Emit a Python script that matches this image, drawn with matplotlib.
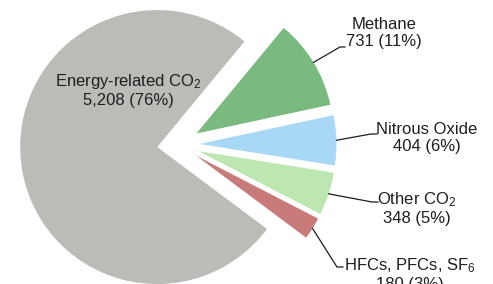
import numpy as np
import matplotlib
matplotlib.use("Agg")
import matplotlib.pyplot as plt

plt.rcParams['font.family'] = ['Liberation Sans', 'DejaVu Sans']

# data
names = ['Energy-related CO$\\mathregular{_2}$', 'Methane', 'Nitrous Oxide',
         'Other CO$\\mathregular{_2}$', 'HFCs, PFCs, SF$\\mathregular{_6}$']
values = [5208, 731, 404, 348, 180]
shares = [76, 11, 6, 5, 3]
colors = ['#BBBBB7', '#7BBA7F', '#A8D8F6', '#BEE6B0', '#C87B79']

# label layout (pixel positions in the 493x284 image, text centre)
label_pos = [(128, 90), (384, 33), (427, 138), (417, 208), (410, 274)]
# leader line: elbow point and end point (pixels), None for no leader
leaders = [None,
           [(340, 47), (345, 47)],
           [(371, 134), (377, 134)],
           [(372, 202), (378, 202)],
           [(337, 267), (343, 267)]]

W, H = 493, 284
fig = plt.figure(figsize=(W / 100, H / 100), dpi=100)
ax = fig.add_axes([0, 0, 1, 1])

wedges, _ = ax.pie(values, colors=colors, explode=[0.155] * len(values),
                   startangle=-36.7, counterclock=False, radius=1,
                   wedgeprops=dict(linewidth=0))
ax.set_xlim(-1.301, 2.297)
ax.set_ylim(-1.018, 1.055)
ax.set_aspect('equal')
ax.axis('off')


def px(x, y):
    # image pixel -> data coords
    return ax.transData.inverted().transform((x, H - y))


for w, name, v, s, pos, ld in zip(wedges, names, values, shares, label_pos, leaders):
    tx, ty = px(*pos)
    ax.text(tx, ty, f'{name}\n{v:,} ({s}%)', ha='center', va='center',
            fontsize=12, color='#1E1E1E')
    if ld is not None:
        ang = np.deg2rad((w.theta1 + w.theta2) / 2)
        cx, cy = w.center
        x0, y0 = cx + w.r * np.cos(ang), cy + w.r * np.sin(ang)
        pts = [px(*p) for p in ld]
        xs = [x0] + [p[0] for p in pts]
        ys = [y0] + [p[1] for p in pts]
        ax.plot(xs, ys, color='#1E1E1E', lw=0.9)

fig.savefig('out.png', dpi=100)
